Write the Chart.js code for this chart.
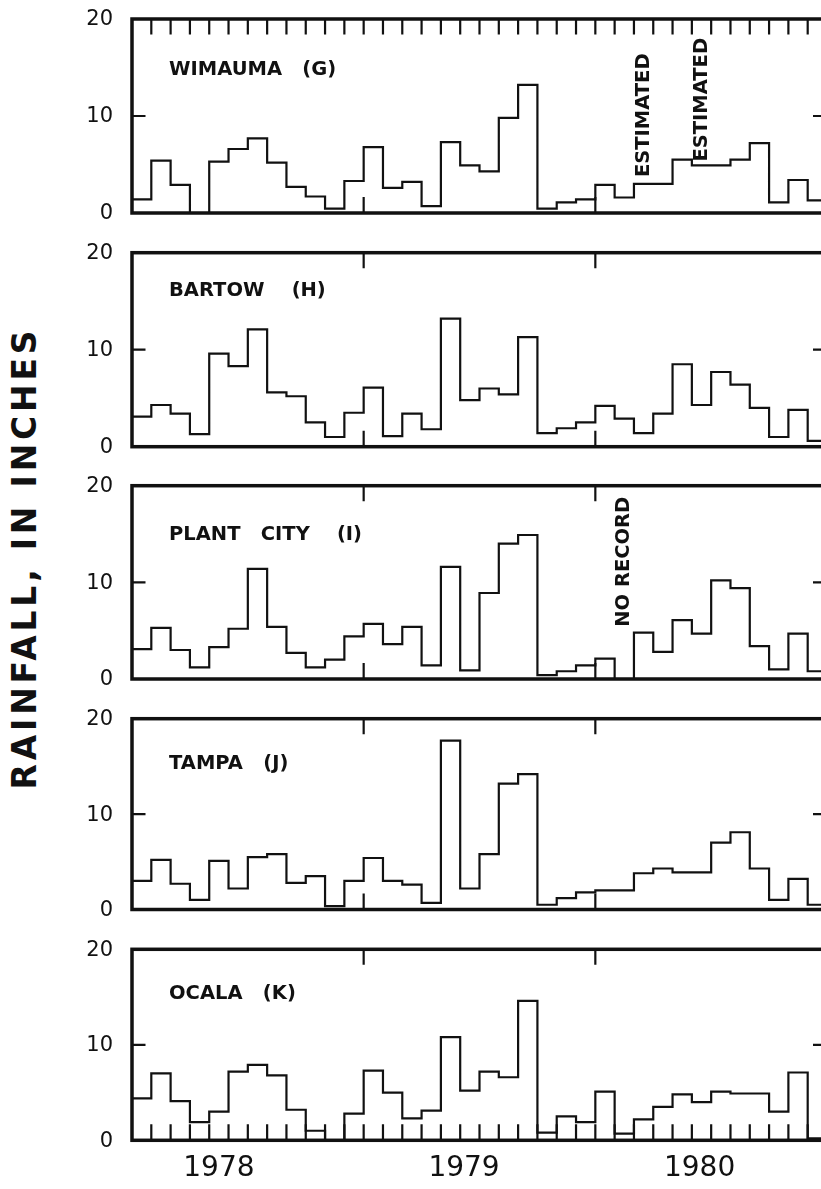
<!DOCTYPE html>
<html>
<head>
<meta charset="utf-8">
<title>Monthly rainfall, 1978-1980</title>
<script src="https://cdn.jsdelivr.net/npm/chart.js@4.4.1/dist/chart.umd.min.js"></script>
<style>
  html, body { margin: 0; padding: 0; background: #fff; overflow: hidden; }
  #wrap { position: relative; width: 821px; height: 1189px; overflow: hidden; background: #fff; }
  #wrap canvas { position: absolute; left: 0; }
  #ytitle {
    position: absolute; left: 24px; top: 558px;
    transform: translate(-50%, -50%) rotate(-90deg);
    font: bold 33px "DejaVu Sans", sans-serif; letter-spacing: 3.8px;
    white-space: nowrap; color: #111; line-height: 1;
  }
</style>
</head>
<body>
<div id="wrap">
  <div id="ytitle">RAINFALL, IN INCHES</div>
</div>
<script>
// Monthly rainfall totals in inches, January 1978 through December 1980
const years = ['1978', '1979', '1980'];
const yTickValues = [0, 10, 20];
const yTickLabels = ['0', '10', '20'];

const wimauma = [1.4, 5.4, 2.9, 0, 5.3, 6.6, 7.7, 5.2, 2.7, 1.7, 0.45, 3.3,
                 6.8, 2.6, 3.2, 0.7, 7.3, 4.9, 4.3, 9.8, 13.2, 0.45, 1.1, 1.4,
                 2.9, 1.6, 3.0, 3.0, 5.5, 4.9, 4.9, 5.5, 7.2, 1.1, 3.4, 1.3];
const bartow = [3.1, 4.3, 3.4, 1.3, 9.6, 8.3, 12.1, 5.6, 5.2, 2.5, 1.0, 3.5,
                6.1, 1.1, 3.4, 1.8, 13.2, 4.8, 6.0, 5.4, 11.3, 1.4, 1.9, 2.5,
                4.2, 2.9, 1.4, 3.4, 8.5, 4.3, 7.7, 6.4, 4.0, 1.0, 3.8, 0.6];
const plantCity = [3.1, 5.3, 3.0, 1.2, 3.3, 5.2, 11.4, 5.4, 2.7, 1.2, 2.0, 4.4,
                   5.7, 3.6, 5.4, 1.4, 11.6, 0.9, 8.9, 14.0, 14.9, 0.4, 0.8, 1.4,
                   2.1, 0, 4.8, 2.8, 6.1, 4.7, 10.2, 9.4, 3.4, 1.0, 4.7, 0.8];
const tampa = [3.0, 5.2, 2.7, 1.0, 5.1, 2.2, 5.5, 5.8, 2.8, 3.5, 0.35, 3.0,
               5.4, 3.0, 2.6, 0.7, 17.7, 2.2, 5.8, 13.2, 14.2, 0.5, 1.2, 1.8,
               2.0, 2.0, 3.8, 4.3, 3.9, 3.9, 7.0, 8.1, 4.3, 1.0, 3.2, 0.5];
const ocala = [4.4, 7.0, 4.1, 1.9, 3.0, 7.2, 7.9, 6.8, 3.2, 1.0, 0, 2.8,
               7.3, 5.0, 2.3, 3.1, 10.8, 5.2, 7.2, 6.6, 14.6, 0.8, 2.5, 1.9,
               5.1, 0.7, 2.2, 3.5, 4.8, 4.0, 5.1, 4.9, 4.9, 3.0, 7.1, 0.2];

// Station names and notes written on single months
const stationNames = ['WIMAUMA   (G)', 'BARTOW    (H)', 'PLANT   CITY    (I)', 'TAMPA   (J)', 'OCALA   (K)'];
const stationSeries = [wimauma, bartow, plantCity, tampa, ocala];
const noteTexts = ['ESTIMATED', 'ESTIMATED', 'NO RECORD'];
const noteStation = [0, 0, 2];
const noteMonth = [26, 29, 25];
const noteLevel = [3.7, 5.3, 5.4];

// Page layout of the five frames (pixels)
const INK = '#111';
const CANVAS_W = 840;
const PLOT_LEFT = 132, PLOT_RIGHT = 827;
const frames = [
  { top: 19,    bottom: 213,    topTicks: 'month', bottomTicks: 'year',  labelDy: 50.5 },
  { top: 252.7, bottom: 446.7,  topTicks: 'year',  bottomTicks: 'year',  labelDy: 38.5 },
  { top: 485.7, bottom: 679,    topTicks: 'year',  bottomTicks: 'year',  labelDy: 49.5 },
  { top: 718.7, bottom: 909.5,  topTicks: 'year',  bottomTicks: 'year',  labelDy: 45.5 },
  { top: 949.3, bottom: 1140.3, topTicks: 'year',  bottomTicks: 'month', labelDy: 44.5 }
];
const yearLabelAt = [4.5, 17.2, 29.4];

function stepPoints(values) {
  const pts = values.map((v, i) => ({ x: i, y: v }));
  pts.push({ x: values.length, y: values[values.length - 1] });
  return pts;
}

function tickValues(kind, nMonths) {
  const out = [];
  for (let m = 1; m < nMonths; m++) {
    if (kind === 'month' || m % 12 === 0) out.push(m);
  }
  return out;
}

const framePlugin = {
  id: 'frame',
  afterDatasetsDraw(chart, args, o) {
    const { ctx, chartArea: a, scales: { x, y } } = chart;
    const nMonths = o.nMonths;
    ctx.save();
    ctx.strokeStyle = INK;
    ctx.fillStyle = INK;
    ctx.lineCap = 'butt';

    // inward tick marks
    ctx.lineWidth = 2.2;
    ctx.beginPath();
    tickValues(o.topTicks, nMonths).forEach(m => {
      const px = x.getPixelForValue(m);
      ctx.moveTo(px, a.top); ctx.lineTo(px, a.top + 15.5);
    });
    tickValues(o.bottomTicks, nMonths).forEach(m => {
      const px = x.getPixelForValue(m);
      ctx.moveTo(px, a.bottom); ctx.lineTo(px, a.bottom - 16);
    });
    const py10 = y.getPixelForValue(10);
    ctx.moveTo(a.left, py10); ctx.lineTo(a.left + 13.5, py10);
    ctx.moveTo(a.right, py10); ctx.lineTo(a.right - 14, py10);
    ctx.stroke();

    // heavy frame
    ctx.lineWidth = 3.5;
    ctx.strokeRect(a.left, a.top, a.right - a.left, a.bottom - a.top);

    // y tick labels
    ctx.font = '21px "DejaVu Sans", sans-serif';
    ctx.textAlign = 'right';
    ctx.textBaseline = 'middle';
    yTickValues.forEach((v, i) => {
      ctx.fillText(yTickLabels[i], a.left - 19, y.getPixelForValue(v) + 1);
    });

    // station name
    ctx.font = 'bold 19.5px "DejaVu Sans", sans-serif';
    ctx.textAlign = 'left';
    ctx.fillText(o.name, a.left + 37, a.top + o.labelDy);

    // notes on single months, written upward
    o.notes.forEach(n => {
      const px = x.getPixelForValue(n.month + 0.5);
      const py = y.getPixelForValue(n.level);
      ctx.save();
      ctx.translate(px, py);
      ctx.rotate(-Math.PI / 2);
      ctx.font = 'bold 19.5px "DejaVu Sans", sans-serif';
      ctx.textAlign = 'left';
      ctx.textBaseline = 'middle';
      ctx.fillText(n.text, 0, 0);
      ctx.restore();
    });

    // year labels under the bottom frame
    if (o.showYears) {
      ctx.font = '28px "DejaVu Sans", sans-serif';
      ctx.textAlign = 'center';
      ctx.textBaseline = 'middle';
      years.forEach((yr, i) => {
        ctx.fillText(yr, x.getPixelForValue(yearLabelAt[i]), a.bottom + 28);
      });
    }
    ctx.restore();
  }
};

const wrap = document.getElementById('wrap');
frames.forEach((f, i) => {
  const values = stationSeries[i];
  const canvasTop = Math.floor(f.top) - 19;
  const isLast = i === frames.length - 1;
  const bottomEdge = isLast ? 1189 : Math.ceil(f.bottom + 20);
  const h = bottomEdge - canvasTop;

  const canvas = document.createElement('canvas');
  canvas.width = CANVAS_W;
  canvas.height = h;
  canvas.style.top = canvasTop + 'px';
  canvas.style.width = CANVAS_W + 'px';
  canvas.style.height = h + 'px';
  wrap.appendChild(canvas);

  const notes = [];
  noteTexts.forEach((t, k) => {
    if (noteStation[k] === i) notes.push({ text: t, month: noteMonth[k], level: noteLevel[k] });
  });

  new Chart(canvas, {
    type: 'line',
    data: {
      datasets: [{
        data: stepPoints(values),
        stepped: 'before',
        borderColor: INK,
        borderWidth: 2.2,
        pointRadius: 0,
        fill: false,
        tension: 0
      }]
    },
    options: {
      responsive: false,
      maintainAspectRatio: false,
      animation: false,
      devicePixelRatio: 1,
      events: [],
      layout: {
        padding: {
          left: PLOT_LEFT,
          right: CANVAS_W - PLOT_RIGHT,
          top: f.top - canvasTop,
          bottom: h - (f.bottom - canvasTop)
        }
      },
      scales: {
        x: { type: 'linear', min: 0, max: values.length, display: false },
        y: { type: 'linear', min: 0, max: 20, display: false }
      },
      plugins: {
        legend: { display: false },
        tooltip: { enabled: false },
        frame: {
          nMonths: values.length,
          topTicks: f.topTicks,
          bottomTicks: f.bottomTicks,
          name: stationNames[i],
          labelDy: f.labelDy,
          notes: notes,
          showYears: isLast
        }
      }
    },
    plugins: [framePlugin]
  });
});
</script>
</body>
</html>
